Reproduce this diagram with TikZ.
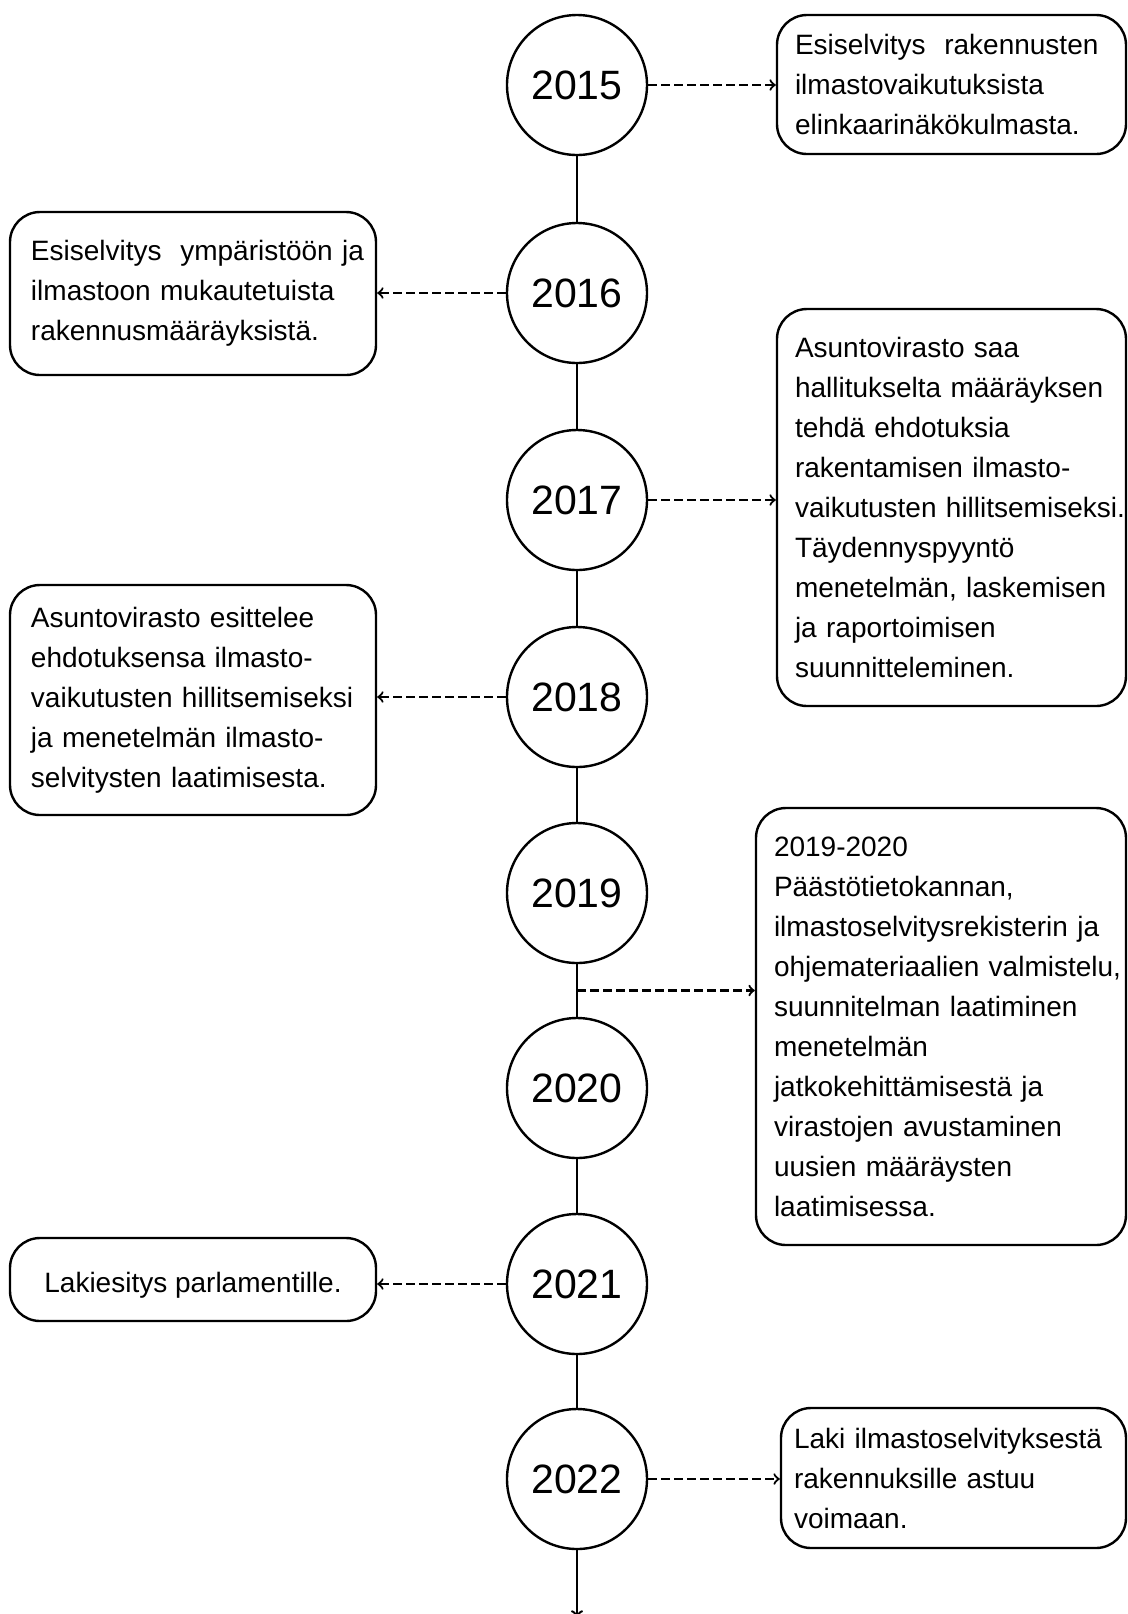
\documentclass[tikz,border=0pt]{standalone}
\usepackage{fontspec}
\setmainfont{Liberation Sans}
\usetikzlibrary{arrows}
\usetikzlibrary{calc}

\begin{document}
\begin{tikzpicture}[x=0.5pt, y=-0.5pt,
    year/.style = {draw, circle, line width=1.2pt, minimum size=70pt, inner sep=0pt, font=\fontsize{20.5}{24}\selectfont},
    note/.style = {draw, line width=1.2pt, rounded corners=15pt, align=left, inner ysep=0pt, font=\fontsize{14}{20}\selectfont, execute at begin node={\hyphenpenalty=10000\relax}},
    link/.style = {dashed, dash pattern=on 4.5pt off 2pt, line width=1.1pt, ->},
    spine/.style = {line width=1.2pt}]

\useasboundingbox (0,0) rectangle (1128,1614);

\node[year] (c15) at (577,85) {2015};
\node[year] (c16) at (577,293) {2016};
\node[year] (c17) at (577,500) {2017};
\node[year] (c18) at (577,697) {2018};
\node[year] (c19) at (577,893) {2019};
\node[year] (c20) at (577,1088) {2020};
\node[year] (c21) at (577,1284) {2021};
\node[year] (c22) at (577,1479) {2022};

\node[note, text width=156.5pt, inner xsep=9pt, minimum height=69.5pt] (b15) at (951.5,84.5)
  {Esiselvitys~~rakennusten\\ ilmastovaikutuksista\\ elinkaarinäkökulmasta.};
\node[note, text width=162pt, inner xsep=10.5pt, minimum height=81.5pt] (b16) at (193,293.5)
  {Esiselvitys~~ympäristöön~ja\\ ilmastoon mukautetuista\\ rakennusmääräyksistä.};
\node[note, text width=156.5pt, inner xsep=9pt, minimum height=198.5pt] (b17) at (951.5,507.5)
  {Asuntovirasto saa\\ hallitukselta~määräyksen\\ tehdä ehdotuksia\\ rakentamisen ilmasto-\\ vaikutusten~hillitsemiseksi.\\ Täydennyspyyntö\\ menetelmän,~laskemisen\\ ja raportoimisen\\ suunnitteleminen.};
\node[note, text width=162pt, inner xsep=10.5pt, minimum height=115pt] (b18) at (193,700)
  {Asuntovirasto esittelee\\ ehdotuksensa ilmasto-\\ vaikutusten~hillitsemiseksi\\ ja menetelmän ilmasto-\\ selvitysten laatimisesta.};
\node[note, text width=167pt, inner xsep=9pt, minimum height=218.5pt] (b1920) at (941,1026.5)
  {2019-2020\\ Päästötietokannan,\\ ilmastoselvitysrekisterin~ja\\ ohjemateriaalien~valmistelu,\\ suunnitelman laatiminen\\ menetelmän\\ jatkokehittämisestä ja\\ virastojen avustaminen\\ uusien määräysten\\ laatimisessa.};
\node[note, align=center, text height=16pt, text depth=3pt, minimum width=183pt, minimum height=41.5pt] (b21) at (193,1279.5)
  {Lakiesitys parlamentille.};
\node[note, text width=159.5pt, inner xsep=6.5pt, minimum height=70pt] (b22) at (953.5,1478)
  {Laki~ilmastoselvityksestä\\ rakennuksille astuu\\ voimaan.};

\coordinate (split) at ($(c19)!0.5!(c20)$);
\coordinate (end) at (577,1617);

\draw[spine] (c15.south) -- (c16.north);
\draw[spine] (c16.south) -- (c17.north);
\draw[spine] (c17.south) -- (c18.north);
\draw[spine] (c18.south) -- (c19.north);
\draw[spine] (c19.south) -- (c20.north);
\draw[spine] (c20.south) -- (c21.north);
\draw[spine] (c21.south) -- (c22.north);
\draw[spine, ->] (c22.south) -- (end);

\draw[link] (c15.east) -- (c15.east -| b15.west);
\draw[link] (c16.west) -- (c16.west -| b16.east);
\draw[link] (c17.east) -- (c17.east -| b17.west);
\draw[link] (c18.west) -- (c18.west -| b18.east);
\draw[link] (split) -- (split -| b1920.west);
\draw[link] (c21.west) -- (c21.west -| b21.east);
\draw[link] (c22.east) -- (c22.east -| b22.west);

\end{tikzpicture}
\end{document}
